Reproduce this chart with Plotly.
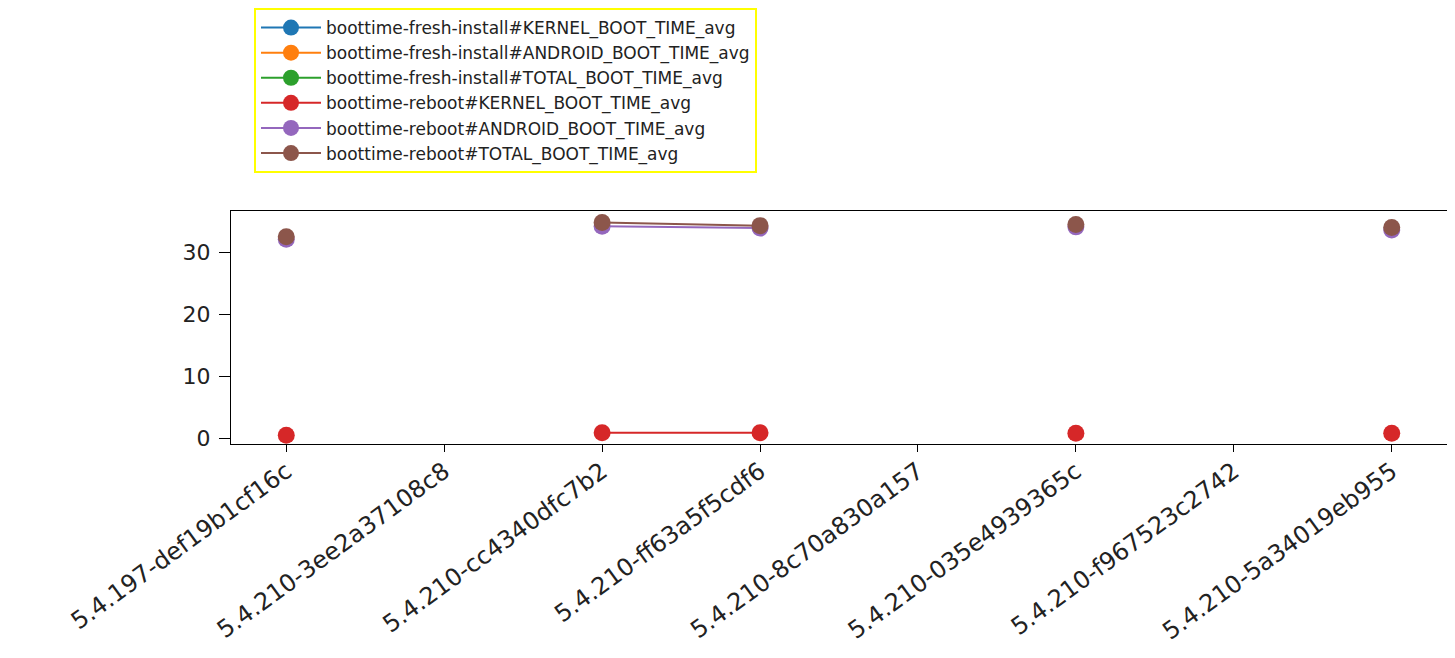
import plotly.graph_objects as go

categories = [
    "5.4.197-def19b1cf16c",
    "5.4.210-3ee2a37108c8",
    "5.4.210-cc4340dfc7b2",
    "5.4.210-ff63a5f5cdf6",
    "5.4.210-8c70a830a157",
    "5.4.210-035e4939365c",
    "5.4.210-f967523c2742",
    "5.4.210-5a34019eb955",
]

series_names = [
    "boottime-fresh-install#KERNEL_BOOT_TIME_avg",
    "boottime-fresh-install#ANDROID_BOOT_TIME_avg",
    "boottime-fresh-install#TOTAL_BOOT_TIME_avg",
    "boottime-reboot#KERNEL_BOOT_TIME_avg",
    "boottime-reboot#ANDROID_BOOT_TIME_avg",
    "boottime-reboot#TOTAL_BOOT_TIME_avg",
]

fresh_kernel = [None] * 8
fresh_android = [None] * 8
fresh_total = [None] * 8
reboot_kernel = [0.5, None, 0.9, 0.9, None, 0.8, None, 0.8]
reboot_android = [32.1, None, 34.2, 33.9, None, 34.1, None, 33.6]
reboot_total = [32.5, None, 34.8, 34.3, None, 34.5, None, 34.0]

series_values = [fresh_kernel, fresh_android, fresh_total,
                 reboot_kernel, reboot_android, reboot_total]
colors = ["#1f77b4", "#ff7f0e", "#2ca02c", "#d62728", "#9467bd", "#8c564b"]

fig = go.Figure()
for name, vals, col in zip(series_names, series_values, colors):
    fig.add_trace(go.Scatter(
        x=list(range(len(categories))), y=vals, name=name,
        mode="lines+markers",
        line=dict(color=col, width=2),
        marker=dict(color=col, size=17),
        connectgaps=False,
        showlegend=True,
    ))

font = "DejaVu Sans"
W, H = 1440, 642
ml, mt, mr, mb = 223, 203, 1, 206
plot_h = H - mt - mb
plot_w = W - ml - mr

fig.update_layout(
    width=W, height=H,
    margin=dict(l=ml, r=mr, t=mt, b=mb, autoexpand=False),
    paper_bgcolor="white", plot_bgcolor="white",
    font=dict(family=font, color="#222222"),
    legend=dict(
        x=(246 - ml) / plot_w, xanchor="left",
        y=(H - mb) / plot_h, yanchor="top",
        bordercolor="#ffff00", borderwidth=2,
        font=dict(family=font, size=17, color="#222222"),
        itemwidth=60,
        tracegroupgap=0,
    ),
    xaxis=dict(
        tickmode="array", tickvals=list(range(len(categories))), ticktext=categories,
        range=[-0.35, 7.35], tickangle=-36,
        showline=True, linecolor="black", linewidth=1, mirror=True,
        ticks="outside", ticklen=7, tickcolor="black",
        ticklabelstandoff=-4,
        showgrid=False, zeroline=False, automargin=False,
        tickfont=dict(family=font, size=24, color="#222222"),
    ),
    yaxis=dict(
        range=[-0.92, 36.66], tickvals=[0, 10, 20, 30],
        showline=True, linecolor="black", linewidth=1, mirror=True,
        ticks="outside", ticklen=11, tickcolor="black",
        ticklabelstandoff=4,
        showgrid=False, zeroline=False, automargin=False,
        tickfont=dict(family=font, size=22, color="#222222"),
    ),
)

fig.write_html("out.html")
